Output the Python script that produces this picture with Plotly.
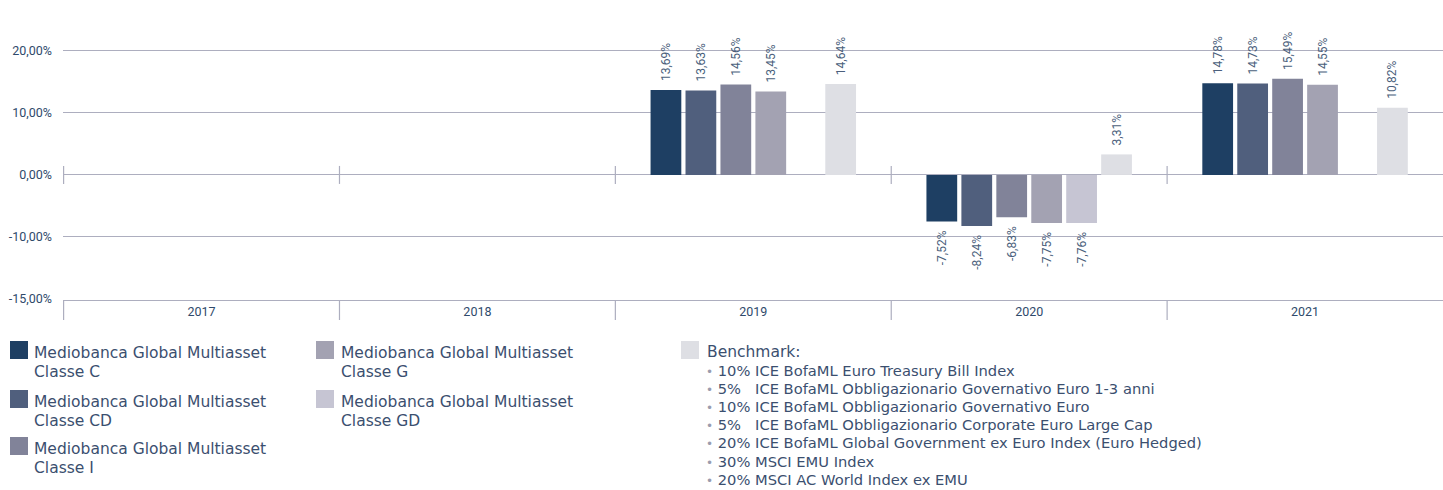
import plotly.graph_objects as go

# ---------------- data ----------------
years = ["2017", "2018", "2019", "2020", "2021"]
series_names = [
    "Mediobanca Global Multiasset Classe C",
    "Mediobanca Global Multiasset Classe CD",
    "Mediobanca Global Multiasset Classe I",
    "Mediobanca Global Multiasset Classe G",
    "Mediobanca Global Multiasset Classe GD",
    "Benchmark",
]
classe_c = [None, None, 13.69, -7.52, 14.78]
classe_cd = [None, None, 13.63, -8.24, 14.73]
classe_i = [None, None, 14.56, -6.83, 15.49]
classe_g = [None, None, 13.45, -7.75, 14.55]
classe_gd = [None, None, None, -7.76, None]
benchmark = [None, None, 14.64, 3.31, 10.82]
series_values = [classe_c, classe_cd, classe_i, classe_g, classe_gd, benchmark]

y_tick_vals = [-20, -10, 0, 10, 20]
y_tick_text = ["-15,00%", "-10,00%", "0,00%", "10,00%", "20,00%"]

legend_left = [
    ["Mediobanca Global Multiasset", "Classe C"],
    ["Mediobanca Global Multiasset", "Classe CD"],
    ["Mediobanca Global Multiasset", "Classe I"],
]
legend_mid = [
    ["Mediobanca Global Multiasset", "Classe G"],
    ["Mediobanca Global Multiasset", "Classe GD"],
]
benchmark_title = "Benchmark:"
benchmark_lines = [
    "10% ICE BofaML Euro Treasury Bill Index",
    "5%\u00a0\u00a0 ICE BofaML Obbligazionario Governativo Euro 1-3 anni",
    "10% ICE BofaML Obbligazionario Governativo Euro",
    "5%\u00a0\u00a0 ICE BofaML Obbligazionario Corporate Euro Large Cap",
    "20% ICE BofaML Global Government ex Euro Index (Euro Hedged)",
    "30% MSCI EMU Index",
    "20% MSCI AC World Index ex EMU",
]

# ---------------- style ----------------
colors = ["#1e3f63", "#505f7d", "#818399", "#a3a2b2", "#c6c5d3", "#dedfe4"]
grid_col = "#adaebf"
cond_font = "Roboto, Liberation Sans Narrow, sans-serif"
leg_font = "DejaVu Sans, Noto Sans, sans-serif"
axis_txt = "#2f4a6b"
lab_txt = "#4b5f7c"
leg_txt = "#3b4f6f"

W, H = 1443, 490
ML, MR, MT, MB = 63, 0, 0, 190
PW, PH = W - ML - MR, H - MT - MB


def px_x(px):
    return (px - ML) / PW


def px_y(py):
    return (MT + PH - py) / PH


def fmt_label(v):
    if v is None:
        return ""
    s = f"{v:.2f}".replace(".", ",") + "%"
    # small padding between bar end and rotated label
    return "\u00a0\u00a0" + s if v >= 0 else s + "\u00a0\u00a0"


fig = go.Figure()
for name, vals, col in zip(series_names, series_values, colors):
    fig.add_trace(go.Bar(
        x=years, y=vals, name=name,
        marker=dict(color=col, line=dict(width=0)),
        text=[fmt_label(v) for v in vals], texttemplate="%{text}",
        textposition="outside", textangle=-90,
        constraintext="none",
        textfont=dict(family=cond_font, size=12, color=lab_txt),
        cliponaxis=False,
    ))

shapes = []
for b in [-0.5, 0.5, 1.5, 2.5, 3.5]:
    shapes.append(dict(type="line", xref="x", yref="paper", x0=b, x1=b,
                       y0=0, y1=-20 / PH, line=dict(color=grid_col, width=1.2)))
    shapes.append(dict(type="line", xref="x", yref="y", x0=b, x1=b,
                       y0=-1.45, y1=1.45, line=dict(color=grid_col, width=1.2)))

annotations = []


def add_text(x_px, yc_px, text, size=15.5):
    annotations.append(dict(xref="paper", yref="paper", x=px_x(x_px), y=px_y(yc_px),
                            xanchor="left", yanchor="middle", align="left", showarrow=False,
                            text=text, borderpad=0,
                            font=dict(family=leg_font, size=size, color=leg_txt)))


def add_square(sq_x, sq_y, col):
    shapes.append(dict(type="rect", xref="paper", yref="paper",
                       x0=px_x(sq_x), x1=px_x(sq_x + 18), y0=px_y(sq_y), y1=px_y(sq_y + 18),
                       fillcolor=col, line=dict(width=0)))


LINE = 18.7
left_y = [341, 390, 437]
for lines, yy, c in zip(legend_left, left_y, colors[0:3]):
    add_square(10, yy, c)
    for k, ln in enumerate(lines):
        add_text(33, yy + 12 + k * LINE, ln)
mid_y = [341, 390]
for lines, yy, c in zip(legend_mid, mid_y, colors[3:5]):
    add_square(316, yy, c)
    for k, ln in enumerate(lines):
        add_text(340, yy + 12 + k * LINE, ln)

add_square(681, 341, colors[5])
add_text(706, 352, benchmark_title)
for k, ln in enumerate(benchmark_lines):
    add_text(705, 370 + k * 18.2,
             "<span style='color:#9a9cae;font-size:12px'>\u2022</span> " + ln, size=14.7)

fig.update_layout(
    width=W, height=H, margin=dict(l=ML, r=MR, t=MT, b=MB, autoexpand=False),
    barmode="group", bargap=0.24, bargroupgap=0.12,
    plot_bgcolor="white", paper_bgcolor="white",
    showlegend=False,
    shapes=shapes, annotations=annotations,
    xaxis=dict(type="category", showline=True, linecolor=grid_col, linewidth=1.2,
               ticks="", showgrid=False, automargin=False,
               tickfont=dict(family=cond_font, size=12.5, color=axis_txt),
               fixedrange=True),
    yaxis=dict(range=[-20.16, 28.2], tickvals=y_tick_vals, ticktext=y_tick_text,
               showgrid=True, gridcolor=grid_col, gridwidth=1.2,
               zeroline=True, zerolinecolor=grid_col, zerolinewidth=1.2,
               ticks="", ticklabelstandoff=10, automargin=False,
               tickfont=dict(family=cond_font, size=12.5, color=axis_txt), fixedrange=True),
)

fig.write_html(
    "out.html",
    config={"displayModeBar": False},
    post_script="document.body.style.margin='0px';document.body.style.overflow='hidden';",
)
